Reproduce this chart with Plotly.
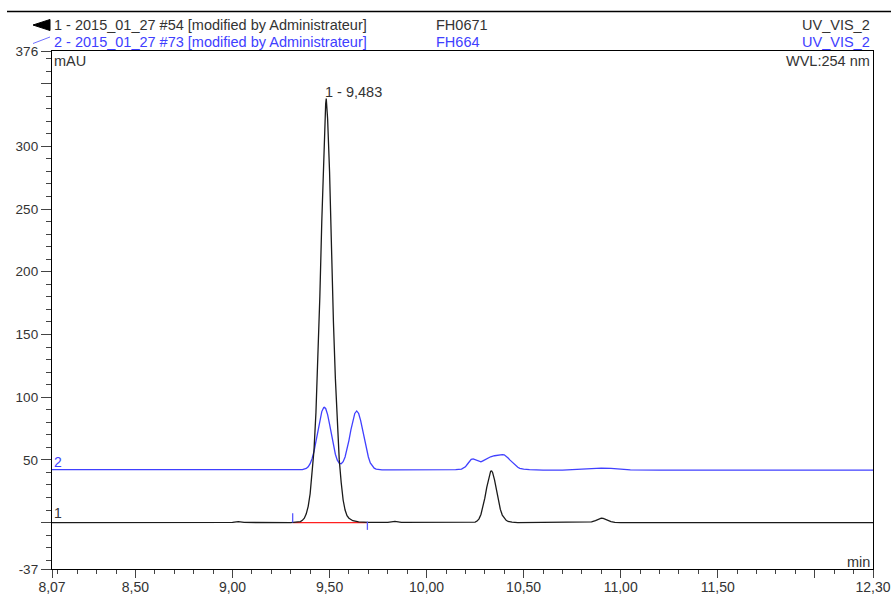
import plotly.graph_objects as go

# chromatogram 1 (black), retention time in min, signal in mAU
t1 = [8.07, 8.50, 9.00, 9.03, 9.06, 9.30, 9.34, 9.35, 9.36, 9.37, 9.38, 9.39, 9.40, 9.41,
      9.42, 9.43, 9.44, 9.45, 9.46, 9.47, 9.48, 9.483, 9.49, 9.50, 9.51, 9.52, 9.53, 9.54,
      9.55, 9.56, 9.57, 9.58, 9.59, 9.60, 9.62, 9.65, 9.70, 9.80, 9.837, 9.87, 10.00, 10.20,
      10.24, 10.25, 10.26, 10.27, 10.28, 10.29, 10.30, 10.31, 10.32, 10.33, 10.335, 10.34,
      10.35, 10.36, 10.37, 10.38, 10.39, 10.40, 10.41, 10.42, 10.44, 10.47, 10.60, 10.83,
      10.85, 10.87, 10.89, 10.90, 10.91, 10.93, 10.95, 10.97, 11.00, 11.50, 12.30]
y1 = [0.0, 0.0, 0.1, 0.8, 0.1, 0.0, 0.3, 0.8, 1.8, 3.5, 7, 13, 23, 38,
      58, 88, 130, 180, 240, 296, 334, 338, 322, 280, 215, 160, 115, 75,
      50, 32, 18, 10, 5.5, 3.5, 1.5, 0.6, 0.2, 0.1, 1.0, 0.1, 0.0, 0.0,
      0.0, 0.4, 1.2, 3.0, 6.5, 12, 19.5, 28, 36, 41, 41.2, 40,
      34, 25.5, 17, 10.5, 6, 3.3, 1.8, 0.9, 0.3, 0.0, 0.0, 0.0,
      0.5, 1.6, 3.0, 3.5, 3.3, 2.0, 0.8, 0.2, 0.0, 0.0, 0.0]

# chromatogram 2 (blue)
t2 = [8.07, 8.30, 8.60, 8.90, 9.10, 9.30, 9.36, 9.38, 9.39, 9.40, 9.41, 9.42, 9.43, 9.44,
      9.45, 9.46, 9.47, 9.473, 9.48, 9.49, 9.50, 9.51, 9.52, 9.53, 9.54, 9.55, 9.56, 9.57,
      9.58, 9.59, 9.60, 9.61, 9.62, 9.63, 9.64, 9.65, 9.66, 9.67, 9.68, 9.69, 9.70, 9.71,
      9.72, 9.73, 9.74, 9.75, 9.77, 9.82, 10.00, 10.15, 10.18, 10.20, 10.21, 10.22, 10.23,
      10.24, 10.25, 10.26, 10.27, 10.28, 10.29, 10.30, 10.31, 10.32, 10.33, 10.35, 10.37,
      10.39, 10.40, 10.41, 10.42, 10.43, 10.44, 10.45, 10.46, 10.47, 10.48, 10.50, 10.53,
      10.60, 10.70, 10.75, 10.80, 10.85, 10.90, 10.95, 11.00, 11.05, 11.20, 11.60, 12.00, 12.30]
y2 = [42.2, 42.2, 42.0, 42.2, 42.0, 42.0, 42.3, 43.2, 44.5, 47.0, 51.0, 56.8, 64.5, 73.2,
      81.8, 88.5, 91.8, 92.0, 91.0, 86.1, 78.5, 69.7, 61.3, 54.5, 49.8, 47.3, 46.9, 48.5,
      52.3, 58.0, 65.6, 73.9, 81.5, 87.0, 89.0, 87.0, 81.5, 73.9, 65.6, 58.0, 52.3, 47.6,
      45.0, 43.4, 42.6, 42.3, 42.1, 42.1, 42.0, 42.2, 42.6, 44.5, 46.5, 48.8, 50.4,
      50.8, 50.2, 49.2, 48.5, 48.4, 49.2, 50.2, 51.0, 51.8, 52.5, 53.3, 54.0,
      54.2, 54.0, 53.0, 51.5, 49.8, 48.2, 46.6, 45.2, 44.1, 43.3, 42.6, 42.2,
      41.8, 41.9, 42.2, 42.8, 43.3, 43.4, 43.2, 42.4, 42.0, 41.9, 41.9, 41.8, 41.8]

# integration baseline of peak 1 and its delimiters
base_t = [9.31, 9.695]
base_y = [0.0, 0.0]
start_mark_y = [0.0, 7.5]
end_mark_y = [0.8, -5.8]

peak_rt = 9.483
peak_label = "1 - 9,483"

x_ticks = [8.07, 8.50, 9.00, 9.50, 10.00, 10.50, 11.00, 11.50, 12.00, 12.30]
x_labels = ["8,07", "8,50", "9,00", "9,50", "10,00", "10,50", "11,00", "11,50", "", "12,30"]
y_ticks = [376, 350, 300, 250, 200, 150, 100, 50, 0, -37]
y_labels = ["376", "", "300", "250", "200", "150", "100", "50", "", "-37"]

BLACK = "#1a1a1a"
BLUE = "#4040ff"
TXT = "#333333"
FONT = "Liberation Sans, Arial, sans-serif"

x_minor = [round(8.1 + 0.1 * i, 2) for i in range(42)]
x_minor = [v for v in x_minor if v not in x_ticks]
y_minor = [v for v in range(-30, 380, 10) if v not in y_ticks]

fig = go.Figure()
fig.add_trace(go.Scatter(x=t2, y=y2, mode="lines", line=dict(color=BLUE, width=1.3)))
fig.add_trace(go.Scatter(x=base_t, y=base_y, mode="lines", line=dict(color="#ff2020", width=1.2)))
fig.add_trace(go.Scatter(x=t1, y=y1, mode="lines", line=dict(color=BLACK, width=1.3)))
fig.add_trace(go.Scatter(x=[base_t[0]] * 2, y=start_mark_y, mode="lines", line=dict(color="#5a5aff", width=1.3)))
fig.add_trace(go.Scatter(x=[base_t[1]] * 2, y=end_mark_y, mode="lines", line=dict(color="#5a5aff", width=1.3)))


def px_x(p):
    return (p - 52) / 821


def px_y(p):
    return (569 - p) / 518


ann = [
    dict(x=peak_rt, y=343, xref="x", yref="y", text=peak_label, xanchor="left", xshift=-2, font_size=14.5),
    dict(x=8.07, y=48, xref="x", yref="y", text="2", xanchor="left", xshift=1, font=dict(color=BLUE, size=14)),
    dict(x=8.07, y=7.5, xref="x", yref="y", text="1", xanchor="left", xshift=1, font_size=14),
    dict(x=px_x(53), y=px_y(25), text="1 - 2015_01_27 #54 [modified by Administrateur]", xanchor="left"),
    dict(x=px_x(53), y=px_y(42.3), text="2 - 2015_01_27 #73 [modified by Administrateur]", xanchor="left",
         font=dict(color=BLUE, size=14.5, family=FONT)),
    dict(x=px_x(435), y=px_y(25), text="FH0671", xanchor="left"),
    dict(x=px_x(435), y=px_y(42.3), text="FH664", xanchor="left", font=dict(color=BLUE, size=14.5, family=FONT)),
    dict(x=px_x(871), y=px_y(25), text="UV_VIS_2", xanchor="right"),
    dict(x=px_x(871), y=px_y(42.3), text="UV_VIS_2", xanchor="right", font=dict(color=BLUE, size=14.5, family=FONT)),
    dict(x=px_x(53), y=px_y(60.7), text="mAU", xanchor="left"),
    dict(x=px_x(871), y=px_y(60.7), text="WVL:254 nm", xanchor="right"),
    dict(x=px_x(871), y=px_y(561.5), text="min", xanchor="right"),
]
for a in ann:
    a.setdefault("xref", "paper")
    a.setdefault("yref", "paper")
    a.setdefault("yanchor", "middle")
    a.setdefault("showarrow", False)
    a.setdefault("borderpad", 0)
    if "font" not in a:
        a["font"] = dict(color=TXT, size=a.pop("font_size", 14.5), family=FONT)
    fig.add_annotation(**a)

fig.add_shape(type="line", xref="paper", yref="paper", x0=px_x(7), x1=px_x(891), y0=px_y(11.5), y1=px_y(11.5),
              line=dict(color="black", width=1.3))
fig.add_shape(type="path", xref="paper", yref="paper",
              path=f"M {px_x(33)},{px_y(25)} L {px_x(50)},{px_y(19.5)} L {px_x(50)},{px_y(30.5)} Z",
              fillcolor="black", line=dict(color="black", width=1))
fig.add_shape(type="line", xref="paper", yref="paper", x0=px_x(33), x1=px_x(50), y0=px_y(43.5), y1=px_y(37),
              line=dict(color="#6f6fff", width=1))

fig.update_layout(
    width=891, height=596,
    margin=dict(l=52, r=18, t=51, b=27),
    plot_bgcolor="white", paper_bgcolor="white",
    showlegend=False, hovermode=False,
    font=dict(family=FONT, color=TXT, size=14),
)
fig.update_xaxes(
    range=[8.07, 12.30], tickmode="array", tickvals=x_ticks, ticktext=x_labels, automargin=False,
    ticks="outside", ticklen=8, tickcolor="#444", tickwidth=1.3, ticklabelstandoff=-3,
    showline=True, linecolor="black", linewidth=1.3, mirror=True,
    showgrid=False, zeroline=False, tickfont=dict(size=14, color=TXT),
    minor=dict(tickmode="array", tickvals=x_minor, ticks="outside", ticklen=4, tickcolor="#444", tickwidth=1),
)
fig.update_yaxes(
    range=[-37, 376], tickmode="array", tickvals=y_ticks, ticktext=y_labels, automargin=False,
    ticks="outside", ticklen=10, tickcolor="#444", tickwidth=1.3,
    showline=True, linecolor="black", linewidth=1.3, mirror=True,
    showgrid=False, zeroline=False, tickfont=dict(size=13.5, color=TXT),
    minor=dict(tickmode="array", tickvals=y_minor, ticks="outside", ticklen=5, tickcolor="#444", tickwidth=1),
)

# no page margin or scrollbars, so the 891x596 figure fills the window exactly
fig.write_html(
    "out.html",
    config={"displayModeBar": False, "responsive": False},
    post_script="document.documentElement.style.margin='0';document.body.style.margin='0';"
                "document.documentElement.style.overflow='hidden';document.body.style.overflow='hidden';",
)
